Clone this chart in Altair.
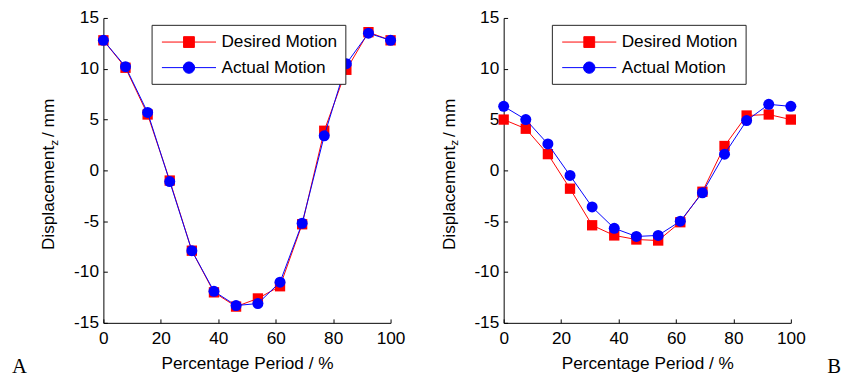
import altair as alt
import pandas as pd

# ---------------- data ----------------
pct = [0, 7.7, 15.4, 23.1, 30.8, 38.5, 46.2, 53.8, 61.5, 69.2, 76.9, 84.6, 92.3, 100]
desired_a = [12.8, 10.1, 5.5, -1.0, -7.9, -12.0, -13.4, -12.6, -11.4, -5.3, 3.9, 9.9, 13.6, 12.8]
actual_a = [12.8, 10.2, 5.7, -1.1, -7.9, -11.9, -13.3, -13.1, -11.0, -5.2, 3.4, 10.5, 13.5, 12.8]
desired_b = [5.0, 4.1, 1.6, -1.8, -5.4, -6.4, -6.8, -6.9, -5.1, -2.1, 2.4, 5.4, 5.5, 5.0]
actual_b = [6.3, 5.0, 2.6, -0.5, -3.6, -5.7, -6.5, -6.4, -5.0, -2.2, 1.6, 4.9, 6.5, 6.3]
series_names = ["Desired Motion", "Actual Motion"]
x_ticks = [0, 20, 40, 60, 80, 100]
y_ticks = [-15, -10, -5, 0, 5, 10, 15]
x_title = "Percentage Period / %"
y_title_main = "Displacement"
y_title_sub = "z"
y_title_unit = "/ mm"
panel_letters = ["A", "B"]

# ---------------- style ----------------
W, H = 292, 310
RED, BLUE = "#ff0000", "#0000ff"
FONT = "Liberation Sans"
SERIF = "Liberation Serif"
FS_TICK = 17.5
FS_TITLE = 17.5
FS_YTITLE = 17.5
FS_LEG = 17.5

# legend symbol: line + marker, in unit coords (1 unit = sqrt(size)/2 px)
SYM_D = 18.0
U = SYM_D / 2


def ux(px):
    return round((px - U) / U, 4)


def uy(px):
    return round(px / U, 4)


LINE_X0 = 2.0
LINE_LEN = 55.0
MC = LINE_X0 + LINE_LEN / 2
line_part = f"M{ux(LINE_X0)},0L{ux(LINE_X0 + LINE_LEN)},0"
hs = 5.5
sq_path = (line_part + f"M{ux(MC - hs)},{uy(-hs)}L{ux(MC + hs)},{uy(-hs)}"
           f"L{ux(MC + hs)},{uy(hs)}L{ux(MC - hs)},{uy(hs)}Z")
r = 5.8
k = 0.5523 * r
ci_path = (line_part +
           f"M{ux(MC + r)},0"
           f"C{ux(MC + r)},{uy(k)} {ux(MC + k)},{uy(r)} {ux(MC)},{uy(r)}"
           f"C{ux(MC - k)},{uy(r)} {ux(MC - r)},{uy(k)} {ux(MC - r)},0"
           f"C{ux(MC - r)},{uy(-k)} {ux(MC - k)},{uy(-r)} {ux(MC)},{uy(-r)}"
           f"C{ux(MC + k)},{uy(-r)} {ux(MC + r)},{uy(-k)} {ux(MC + r)},0Z")

shape_expr = f"datum.value === '{series_names[0]}' ? '{sq_path}' : '{ci_path}'"
color_expr = f"datum.value === '{series_names[0]}' ? '{RED}' : '{BLUE}'"


def panel(desired, actual, letter, letter_x):
    n = len(pct)
    df = pd.DataFrame({
        "pct": pct + pct,
        "val": desired + actual,
        "series": [series_names[0]] * n + [series_names[1]] * n,
    })
    cscale = alt.Scale(domain=series_names, range=[RED, BLUE])
    legend = alt.Legend(
        orient="none", legendX=49, legendY=7, title=None, direction="vertical",
        strokeColor="#222222", fillColor="white", padding=8,
        symbolSize=SYM_D * SYM_D, labelOffset=44, rowPadding=8,
        labelFont=FONT, labelFontSize=FS_LEG, labelColor="black",
        symbolType={"expr": shape_expr},
        symbolStrokeColor={"expr": color_expr},
        symbolFillColor={"expr": color_expr},
        symbolStrokeWidth=1, symbolOpacity=1,
    )
    color = alt.Color("series:N", scale=cscale, legend=legend)
    xs = alt.Scale(domain=[0, 100], nice=False)
    ys = alt.Scale(domain=[-15, 15], nice=False)
    x_main = alt.X("pct:Q", scale=xs, axis=alt.Axis(
        orient="bottom", values=x_ticks, ticks=False, tickSize=0, labelPadding=7,
        grid=False, title=x_title, titlePadding=8, labelFlush=False,
        labelExpr="'' + datum.value"))
    y_main = alt.Y("val:Q", scale=ys, axis=alt.Axis(
        orient="left", values=y_ticks, ticks=False, tickSize=0, labelPadding=5,
        grid=False, title=None, labelExpr="'' + datum.value"))
    x_tick = alt.X("pct:Q", scale=xs, axis=alt.Axis(
        orient="top", offset=-H, values=x_ticks, labels=False, domain=False,
        ticks=True, tickSize=4, grid=False, title=None))
    y_tick = alt.Y("val:Q", scale=ys, axis=alt.Axis(
        orient="right", offset=-W, values=y_ticks, labels=False, domain=False,
        ticks=True, tickSize=4, grid=False, title=None))
    x_none = alt.X("pct:Q", scale=xs, axis=None)
    y_none = alt.Y("val:Q", scale=ys, axis=None)

    base = alt.Chart(df)
    d = base.transform_filter(alt.datum.series == series_names[0])
    a = base.transform_filter(alt.datum.series == series_names[1])
    p1 = d.mark_point(shape="square", filled=True, size=110, opacity=1).encode(
        x=x_main, y=y_main, color=color)
    l1 = d.mark_line(strokeWidth=1).encode(x=x_tick, y=y_tick, color=color)
    l2 = a.mark_line(strokeWidth=1).encode(x=x_none, y=y_none, color=color)
    p2 = a.mark_point(shape="circle", filled=True, size=125, opacity=1).encode(
        x=x_none, y=y_none, color=color)

    def txt(s, **kw):
        return alt.Chart(pd.DataFrame({"t": [s]})).mark_text(color="black", **kw)

    t_main = txt(y_title_main, angle=270, align="left", baseline="alphabetic",
                 font=FONT, fontSize=FS_YTITLE).encode(text="t:N", x=alt.value(-50), y=alt.value(236))
    t_sub = txt(y_title_sub, angle=270, align="left", baseline="alphabetic",
                font=FONT, fontSize=12).encode(text="t:N", x=alt.value(-46), y=alt.value(130))
    t_unit = txt(y_title_unit, angle=270, align="left", baseline="alphabetic",
                 font=FONT, fontSize=FS_YTITLE).encode(text="t:N", x=alt.value(-50), y=alt.value(121))
    t_letter = txt(letter, align="left", baseline="alphabetic", font=SERIF,
                   fontSize=21).encode(text="t:N", x=alt.value(letter_x), y=alt.value(361))

    return alt.layer(p1, l1, l2, p2, t_main, t_sub, t_unit, t_letter).resolve_axis(
        x="independent", y="independent").properties(width=W, height=H)


pa = panel(desired_a, actual_a, panel_letters[0], -93)
pb = panel(desired_b, actual_b, panel_letters[1], 329)

chart = alt.hconcat(pa, pb, spacing=115, bounds="flush").resolve_scale(
    color="independent").resolve_legend(color="independent").properties(
    padding={"left": 4, "top": -2, "right": 0, "bottom": 0}
).configure_view(strokeWidth=0).configure_axis(
    labelFont=FONT, labelFontSize=FS_TICK, titleFont=FONT, titleFontSize=FS_TITLE,
    titleFontWeight="normal", labelColor="black", titleColor="black",
    domainColor="black", tickColor="black", domainWidth=1, tickWidth=1,
)

chart.save("out.html", embed_options={"renderer": "svg", "actions": False})
